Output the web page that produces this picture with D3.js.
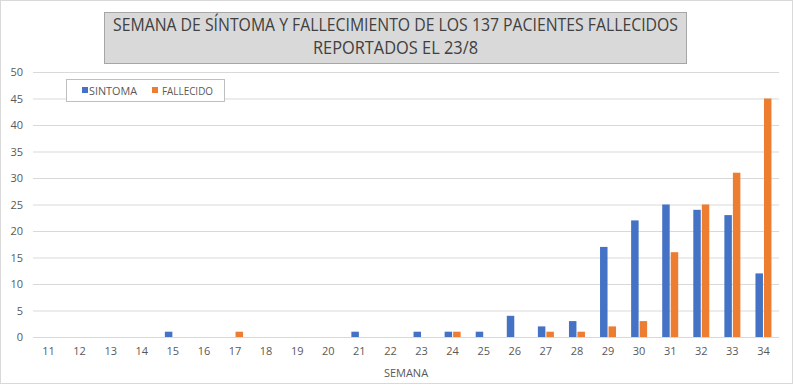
<!DOCTYPE html>
<html><head><meta charset="utf-8">
<script src="https://cdn.jsdelivr.net/npm/d3@7"></script>
<style>html,body{margin:0;padding:0;background:#fff;}</style>
</head><body>
<script>
const weeks = [11,12,13,14,15,16,17,18,19,20,21,22,23,24,25,26,27,28,29,30,31,32,33,34];
const sintoma = [0,0,0,0,1,0,0,0,0,0,1,0,1,1,1,4,2,3,17,22,25,24,23,12];
const fallecido = [0,0,0,0,0,0,1,0,0,0,0,0,0,1,0,0,1,1,2,3,16,25,31,45];
const seriesNames = ["SINTOMA","FALLECIDO"];
const yTicks = [0,5,10,15,20,25,30,35,40,45,50];
const titleLines = ["SEMANA DE SÍNTOMA Y FALLECIMIENTO DE LOS 137 PACIENTES FALLECIDOS","REPORTADOS EL 23/8"];
const xTitle = "SEMANA";

(function(){
const W=794,H=386;
const colors={SINTOMA:"#4472c4",FALLECIDO:"#ed7d31"};
const font="'Open Sans','Liberation Sans',sans-serif";
const svg=d3.select("body").append("svg").attr("width",W).attr("height",H);
svg.append("rect").attr("x",0.5).attr("y",0.5).attr("width",W-2).attr("height",H-3).attr("fill","#fff").attr("stroke","#d9d9d9");

const pL=33,pR=779,pT=72,pB=337;
const x0=d3.scaleBand().domain(weeks).range([pL,pR]).padding(0);
const bw=x0.bandwidth();
const x1=d3.scaleBand().domain(seriesNames).range([bw/2-8,bw/2+8]).paddingInner(0.12);
const y=d3.scaleLinear().domain([0,50]).range([pB,pT]);

const yAxis=d3.axisLeft(y).tickValues(yTicks).tickSize(-(pR-pL)).tickPadding(10);
const gy=svg.append("g").attr("transform",`translate(${pL},0)`).call(yAxis);
gy.select(".domain").remove();
gy.selectAll(".tick line").attr("stroke","#d9d9d9");
gy.selectAll(".tick text").attr("fill","#595959").style("font-family",font).style("font-size","11px");

const xAxis=d3.axisBottom(x0).tickSize(0).tickPadding(10);
const gx=svg.append("g").attr("transform",`translate(0,${pB})`).call(xAxis);
gx.select(".domain").remove();
gx.selectAll(".tick text").attr("fill","#595959").style("font-family",font).style("font-size","11px");

const data=weeks.map((w,i)=>({w,vals:[{k:"SINTOMA",v:sintoma[i]},{k:"FALLECIDO",v:fallecido[i]}]}));
const g=svg.append("g").selectAll("g").data(data).join("g").attr("transform",d=>`translate(${x0(d.w)},0)`);
g.selectAll("rect").data(d=>d.vals.filter(e=>e.v>0)).join("rect")
 .attr("x",d=>x1(d.k)).attr("width",x1.bandwidth())
 .attr("y",d=>y(d.v)).attr("height",d=>y(0)-y(d.v)).attr("fill",d=>colors[d.k]);

svg.append("text").attr("x",(pL+pR)/2).attr("y",377).attr("text-anchor","middle")
 .attr("fill","#595959").style("font-family",font).style("font-size","11px").text(xTitle);

svg.append("rect").attr("x",104.5).attr("y",12.5).attr("width",582).attr("height",51)
 .attr("fill","#d9d9d9").attr("stroke","#a6a6a6");
const tl=[{t:titleLines[0],y:31,len:565},{t:titleLines[1],y:54,len:165}];
svg.selectAll(".tt").data(tl).join("text").attr("x",395.5).attr("y",d=>d.y).attr("text-anchor","middle")
 .attr("fill","#404040").style("font-family",font).style("font-size","18px")
 .attr("textLength",d=>d.len).attr("lengthAdjust","spacingAndGlyphs").text(d=>d.t);

svg.append("rect").attr("x",66.5).attr("y",79.5).attr("width",158).attr("height",22)
 .attr("fill","#fff").attr("stroke","#bfbfbf");
const leg=[{k:"SINTOMA",sx:82,tx:89,len:48},{k:"FALLECIDO",sx:152,tx:162,len:51}];
leg.forEach(l=>{
  svg.append("rect").attr("x",l.sx).attr("y",87).attr("width",6).attr("height",6).attr("fill",colors[l.k]);
  svg.append("text").attr("x",l.tx).attr("y",94.5).attr("fill","#595959").style("font-family",font).style("font-size","11px")
   .attr("textLength",l.len).attr("lengthAdjust","spacingAndGlyphs").text(l.k);
});
})();
</script>
</body></html>
